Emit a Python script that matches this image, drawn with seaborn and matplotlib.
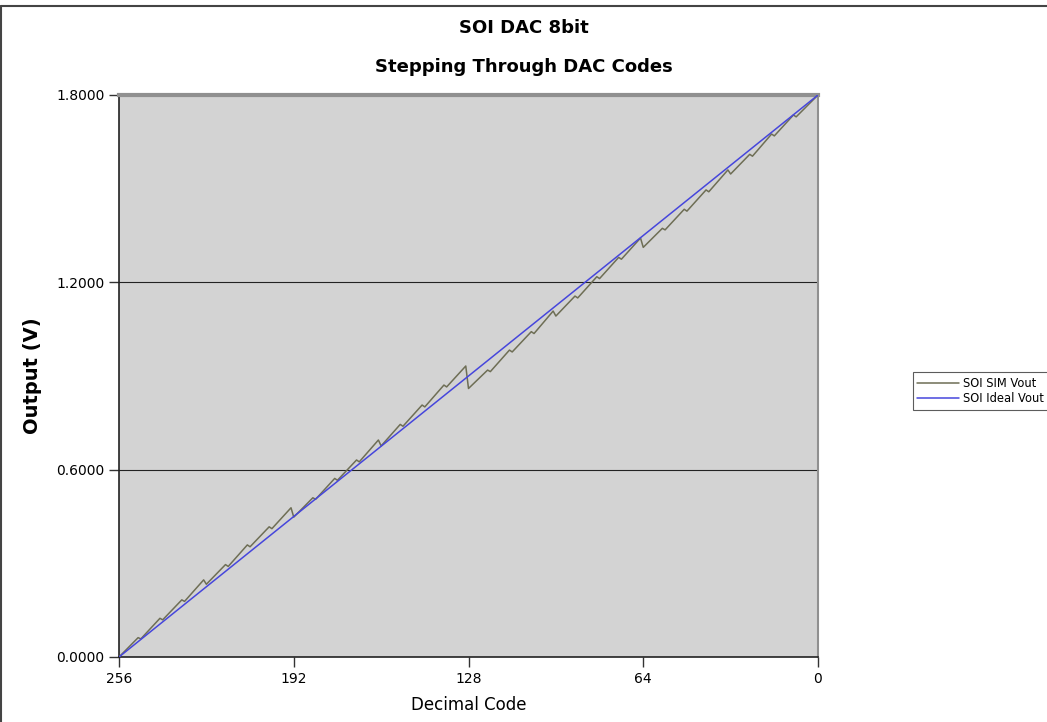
import matplotlib
matplotlib.use("Agg")
import matplotlib.pyplot as plt
import seaborn as sns
import pandas as pd
from matplotlib.lines import Line2D

# ---- data ----
sim_codes = [256, 249, 248, 241, 240, 233, 232, 225, 224, 217, 216, 209, 208, 201, 200, 193,
             192, 185, 184, 177, 176, 169, 168, 161, 160, 153, 152, 145, 144, 137, 136, 129,
             128, 121, 120, 113, 112, 105, 104, 97, 96, 89, 88, 81, 80, 73, 72, 65,
             64, 57, 56, 49, 48, 41, 40, 33, 32, 25, 24, 17, 16, 9, 8, 0]
sim_vout = [0.000, 0.062, 0.058, 0.124, 0.119, 0.183, 0.178, 0.247, 0.233, 0.296, 0.290, 0.359, 0.353, 0.417, 0.411, 0.478,
            0.448, 0.510, 0.505, 0.572, 0.566, 0.631, 0.625, 0.695, 0.676, 0.745, 0.739, 0.807, 0.801, 0.871, 0.865, 0.932,
            0.860, 0.919, 0.914, 0.983, 0.977, 1.042, 1.036, 1.108, 1.092, 1.156, 1.150, 1.218, 1.212, 1.280, 1.274, 1.342,
            1.312, 1.373, 1.368, 1.434, 1.428, 1.496, 1.490, 1.560, 1.547, 1.610, 1.604, 1.675, 1.669, 1.736, 1.730, 1.800]
ideal_codes = [256, 0]
ideal_vout = [0.0, 1.8]

x_ticks = [256, 192, 128, 64, 0]
y_ticks = [0.0, 0.6, 1.2, 1.8]

sim_color = "#6e6e55"
ideal_color = "#4646dc"

sns.set_theme(style="ticks")
plt.rcParams['font.family'] = ['DejaVu Sans']
plt.rcParams['text.color'] = 'black'
plt.rcParams['axes.labelcolor'] = 'black'
plt.rcParams['xtick.color'] = 'black'
plt.rcParams['ytick.color'] = 'black'

fig = plt.figure(figsize=(10.47, 7.22), dpi=100)
ax = fig.add_axes([119/1047, 1-657/722, (818-119)/1047, (657-95)/722])
ax.set_facecolor("#d3d3d3")

df_sim = pd.DataFrame({"code": sim_codes, "v": sim_vout})
df_ideal = pd.DataFrame({"code": ideal_codes, "v": ideal_vout})

for yv in y_ticks[1:3]:
    ax.axhline(yv, color="#222222", lw=0.8, zorder=1)

sns.lineplot(data=df_sim, x="code", y="v", ax=ax, color=sim_color, lw=1.1,
             sort=False, estimator=None, zorder=3)
sns.lineplot(data=df_ideal, x="code", y="v", ax=ax, color=ideal_color, lw=1.1,
             sort=False, estimator=None, zorder=4)

ax.set_xlim(256, 0)
ax.set_ylim(0, 1.8)
ax.set_xticks(x_ticks)
ax.set_xticklabels([str(t) for t in x_ticks])
ax.set_yticks(y_ticks)
ax.set_yticklabels([f"{t:.4f}" for t in y_ticks])
ax.tick_params(axis='both', labelsize=10, length=7, width=1, color="#333333", direction='out')

for s in ["left", "bottom"]:
    ax.spines[s].set_color("#222222")
    ax.spines[s].set_linewidth(1.2)
ax.spines["top"].set_color("#909090")
ax.spines["top"].set_linewidth(3)
ax.spines["right"].set_color("#909090")
ax.spines["right"].set_linewidth(1.5)

ax.set_xlabel("Decimal Code", fontsize=12)
ax.xaxis.set_label_coords(0.5, -(705-657)/562, transform=ax.transAxes)
ax.set_ylabel("Output (V)", fontsize=14, fontweight="bold")
ax.yaxis.set_label_coords(-(119-32)/699, 0.5, transform=ax.transAxes)
ax.yaxis.label.set_va("center")
ax.xaxis.label.set_va("center")

fig.text(0.5, 1-28/722, "SOI DAC 8bit", ha="center", va="center", fontsize=13, fontweight="bold")
fig.text(0.5, 1-67/722, "Stepping Through DAC Codes", ha="center", va="center", fontsize=13, fontweight="bold")

handles = [Line2D([], [], color=sim_color, lw=1.1), Line2D([], [], color=ideal_color, lw=1.1)]
leg = fig.legend(handles, ["SOI SIM Vout", "SOI Ideal Vout"], loc="center left",
                 bbox_to_anchor=(907/1047, 1-391/722), fontsize=8.3, frameon=True,
                 fancybox=False, handlelength=3.6, borderpad=0.4, labelspacing=0.25,
                 handletextpad=0.4)
leg.get_frame().set_edgecolor("#333333")
leg.get_frame().set_linewidth(0.8)

# figure border (left and top)
fig.add_artist(Line2D([1/1047, 1/1047], [0, 1-6/722], transform=fig.transFigure, color="#444444", lw=1.5))
fig.add_artist(Line2D([1/1047, 1], [1-6/722, 1-6/722], transform=fig.transFigure, color="#444444", lw=1.5))

fig.savefig("out.png", dpi=100)
